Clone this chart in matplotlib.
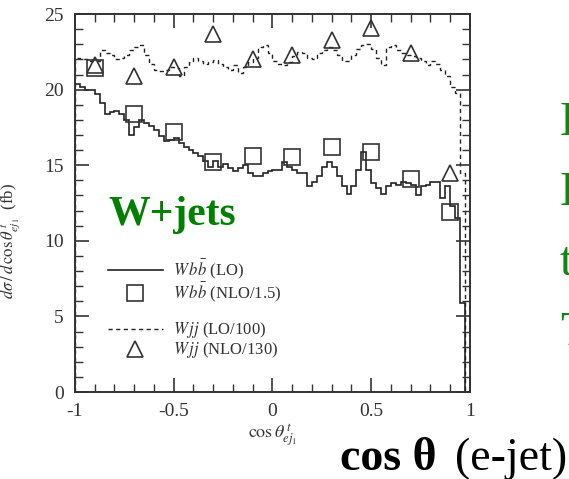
import matplotlib
matplotlib.use('Agg')
import matplotlib.pyplot as plt
from matplotlib.lines import Line2D
from matplotlib.ticker import MultipleLocator
import numpy as np

plt.rcParams['font.family'] = ['Liberation Serif', 'DejaVu Serif']
plt.rcParams['mathtext.fontset'] = 'stix'

# 80 bins of width 0.025 on cos(theta) in [-1, 1]
bin_edges = np.linspace(-1.0, 1.0, 81)

# W b bbar at LO (fb)
wbb_lo = [20.4, 20.2, 20.0, 20.0, 19.7, 19.1, 18.4, 18.5, 18.6, 18.4,
          18.0, 17.0, 17.5, 18.0, 17.8, 17.6, 17.3, 16.9, 16.6, 16.7,
          16.8, 16.5, 16.2, 16.0, 15.8, 15.6, 15.3, 14.9, 15.3, 14.9,
          15.1, 14.8, 14.6, 14.8, 15.0, 14.5, 14.3, 14.3, 14.5, 14.6,
          14.7, 14.7, 15.2, 14.9, 14.7, 14.5, 14.5, 13.6, 13.9, 14.3,
          14.9, 15.2, 14.9, 14.3, 13.6, 13.1, 13.6, 14.7, 15.9, 14.7,
          13.8, 13.5, 13.1, 13.6, 13.8, 13.7, 13.9, 13.8, 13.7, 13.0,
          13.6, 13.7, 13.9, 13.9, 12.8, 13.6, 12.3, 11.5, 5.9, 0.0]

# W j j at LO, divided by 100
wjj_lo = [22.1, 22.0, 22.0, 21.9, 21.9, 22.6, 22.4, 22.3, 22.0, 22.1,
          22.3, 22.6, 22.8, 22.95, 22.3, 21.7, 21.3, 21.2, 21.3, 21.5,
          21.4, 20.9, 21.5, 21.8, 22.1, 21.9, 21.7, 21.8, 21.95, 21.7,
          21.5, 21.3, 21.6, 21.1, 21.5, 21.8, 22.1, 22.8, 22.95, 22.4,
          21.9, 21.7, 21.6, 21.8, 22.2, 22.5, 22.4, 22.1, 22.0, 22.4,
          22.6, 22.8, 22.6, 22.3, 21.9, 21.9, 22.3, 22.7, 22.95, 23.05,
          22.7, 22.1, 21.6, 22.8, 22.95, 22.6, 22.4, 22.3, 22.2, 22.1,
          21.9, 21.6, 21.9, 21.7, 21.3, 20.9, 20.2, 19.8, 14.5, 0.0]

# NLO points
nlo_x = [-0.9, -0.7, -0.5, -0.3, -0.1, 0.1, 0.3, 0.5, 0.7, 0.9]
wbb_nlo = [21.4, 18.4, 17.2, 15.2, 15.6, 15.55, 16.2, 15.9, 14.1, 11.9]
wjj_nlo = [21.6, 20.9, 21.5, 23.7, 22.0, 22.3, 23.3, 24.1, 22.4, 14.5]

ink = '#222222'
grey = '#333333'

fig = plt.figure(figsize=(5.69, 4.79), dpi=100)
ax = fig.add_axes([0.1318, 0.1816, 0.6942, 0.7891])

ax.stairs(wbb_lo, bin_edges, color=ink, linewidth=1.2)
ax.stairs(wjj_lo, bin_edges, color=ink, linewidth=1.0, linestyle=(0, (3, 2.5)))
ax.plot(nlo_x, wbb_nlo, linestyle='none', marker='s', markersize=11,
        markerfacecolor='none', markeredgecolor=grey, markeredgewidth=1.2)
ax.plot(nlo_x, wjj_nlo, linestyle='none', marker='^', markersize=12,
        markerfacecolor='none', markeredgecolor=grey, markeredgewidth=1.2)

ax.set_xlim(-1, 1)
ax.set_ylim(0, 25)
ax.set_xticks([-1, -0.5, 0, 0.5, 1])
ax.set_xticklabels(['-1', '-0.5', '0', '0.5', '1'])
ax.set_yticks([0, 5, 10, 15, 20, 25])
ax.xaxis.set_minor_locator(MultipleLocator(0.1))
ax.yaxis.set_minor_locator(MultipleLocator(1))
ax.tick_params(which='both', direction='in', top=True, right=True,
               color=grey, labelcolor=grey, labelsize=14)
ax.tick_params(which='major', length=10, width=1.2, pad=8)
ax.tick_params(which='minor', length=6, width=1.0)
for sp in ax.spines.values():
    sp.set_linewidth(1.4)
    sp.set_color(grey)

ax.set_xlabel(r'$\cos\theta^{\,t}_{ej_1}$', fontsize=13, color=grey, labelpad=2)
ax.set_ylabel(r'$d\sigma\,/\,d\,\cos\theta^{\,t}_{ej_1}$  (fb)', fontsize=12,
              color=grey)
ax.yaxis.set_label_coords(-0.134, 0.4)

handles = [
    Line2D([], [], color=ink, linewidth=1.2),
    Line2D([], [], linestyle='none', marker='s', markersize=11,
           markerfacecolor='none', markeredgecolor=grey, markeredgewidth=1.2),
    Line2D([], [], linestyle='none'),
    Line2D([], [], color=ink, linewidth=1.0, linestyle=(0, (3, 2.5))),
    Line2D([], [], linestyle='none', marker='^', markersize=12,
           markerfacecolor='none', markeredgecolor=grey, markeredgewidth=1.2),
]
labels = [r'$W\,b\bar{b}$ (LO)', r'$W\,b\bar{b}$ (NLO/1.5)', ' ',
          r'$W\,jj$ (LO/100)', r'$W\,jj$ (NLO/130)']
ax.legend(handles, labels, loc='upper left', bbox_to_anchor=(0.083, 0.355),
          frameon=False, fontsize=12, handlelength=3.3, handletextpad=0.6,
          handleheight=0.6, labelspacing=0.0, borderpad=0, borderaxespad=0,
          labelcolor=grey)

fig.text(108 / 569, 1 - 225 / 479, 'W+jets', color='#007f00', fontsize=30,
         fontweight='bold', va='baseline', ha='left')

fig.text(340 / 569, 1 - 470 / 479, 'cos θ', fontsize=33, fontweight='bold',
         va='baseline', ha='left')
fig.text(567 / 569, 1 - 470 / 479, '(e-jet)', fontsize=33,
         va='baseline', ha='right')

# green slide text that runs off the right edge
for yb, s in zip([135, 205, 275, 345], ['E', 'E', 't', 'T']):
    fig.text(560 / 569, 1 - yb / 479, s, color='#0a8a0a', fontsize=35,
             va='baseline', ha='left')

fig.savefig('out.png', dpi=100)
